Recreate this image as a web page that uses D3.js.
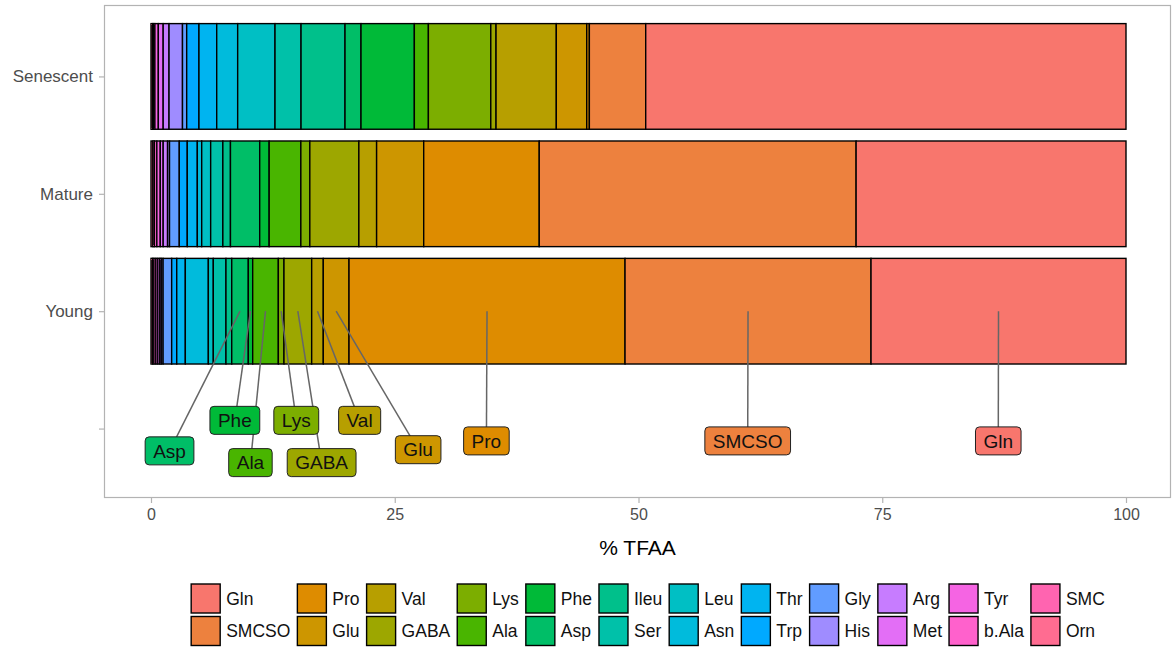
<!DOCTYPE html>
<html>
<head>
<meta charset="utf-8">
<script src="https://cdn.jsdelivr.net/npm/d3@7"></script>
<style>
  body { margin: 0; background: #fff; }
  text { font-family: "Liberation Sans", Arial, sans-serif; }
</style>
</head>
<body>
<svg id="chart" width="1174" height="649"></svg>
<script>
// ---- data ----
const stages = ["Senescent", "Mature", "Young", ""];
const aminoAcids = ["Gln","SMCSO","Pro","Glu","Val","GABA","Lys","Ala","Phe","Asp","Ileu","Ser","Leu","Asn","Thr","Trp","Gly","His","Arg","Met","Tyr","b.Ala","SMC","Orn"];
const youngValues     = [26.15, 25.23, 28.31, 2.64, 1.19, 2.84, 0.58, 2.63, 0.45, 1.70, 0.59, 1.30, 0.51, 2.36, 0.88, 0.52, 0.88, 0.19, 0.15, 0.20, 0.20, 0.20, 0.15, 0.15];
const matureValues    = [27.68, 32.50, 11.85, 4.83, 1.82, 5.03, 0.92, 3.25, 0.97, 3.00, 0.78, 1.25, 0.92, 0.45, 1.03, 0.82, 1.00, 0.20, 0.45, 0.30, 0.35, 0.25, 0.15, 0.20];
const senescentValues = [49.26, 5.78, 0.27, 3.12, 6.18, 0.54, 6.40, 1.44, 5.47, 1.64, 4.51, 2.67, 3.83, 2.15, 1.82, 1.26, 0.43, 1.38, 0.60, 0.50, 0.35, 0.15, 0.10, 0.15];
const xTicks = [0, 25, 50, 75, 100];
const xTitle = "% TFAA";
// labelled segments (on the Young bar) and their repelled label placement
const labelled    = ["Asp","Phe","Ala","Lys","GABA","Val","Glu","Pro","SMCSO","Gln"];
const labelPosX   = [1.9, 8.6, 10.2, 14.9, 17.5, 21.4, 27.4, 34.4, 61.2, 86.9];
const labelDropY  = [1.19, 0.93, 1.29, 0.93, 1.29, 0.93, 1.18, 1.105, 1.105, 1.105];

// ---- ggplot hue palette (polarLUV, c=100, l=65) ----
function hclHex(h, c, l) {
  const hr = h * Math.PI / 180;
  const u = c * Math.cos(hr), v = c * Math.sin(hr);
  const Xn = 95.047, Yn = 100, Zn = 108.883;
  const den = Xn + 15 * Yn + 3 * Zn;
  const un = 4 * Xn / den, vn = 9 * Yn / den;
  const Y = Yn * Math.pow((l + 16) / 116, 3);
  const up = u / (13 * l) + un, vp = v / (13 * l) + vn;
  const X = 9 * Y * up / (4 * vp);
  const Z = -X / 3 - 5 * Y + 3 * Y / vp;
  const x = X / 100, y = Y / 100, z = Z / 100;
  let rgb = [
    3.240479 * x - 1.537150 * y - 0.498535 * z,
   -0.969256 * x + 1.875992 * y + 0.041556 * z,
    0.055648 * x - 0.204043 * y + 1.057311 * z
  ].map(t => {
    t = t <= 0.0031308 ? 12.92 * t : 1.055 * Math.pow(t, 1 / 2.4) - 0.055;
    return Math.round(Math.max(0, Math.min(1, t)) * 255);
  });
  return d3.rgb(rgb[0], rgb[1], rgb[2]).formatHex();
}
const palette = aminoAcids.map((d, i) => hclHex(15 + i * 360 / aminoAcids.length, 100, 65));
const color = d3.scaleOrdinal().domain(aminoAcids).range(palette);

// ---- build table ----
const valueRows = { "Senescent": senescentValues, "Mature": matureValues, "Young": youngValues };
const table = ["Senescent","Mature","Young"].map(s => {
  const row = { stage: s };
  aminoAcids.forEach((a, i) => row[a] = valueRows[s][i]);
  return row;
});
const stackKeys = aminoAcids.slice().reverse(); // Orn at 0, Gln at 100
const series = d3.stack().keys(stackKeys)(table);

// ---- layout ----
const svg = d3.select("#chart");
const panel = { left: 104, right: 1171, top: 5, bottom: 498 };
const x = d3.scaleLinear().domain([0, 100]).range([151, 1126]);
const y = d3.scalePoint().domain(stages).range([6, 499]).padding(0.6);
const step = y.step();
const barH = step * 0.9;

// panel border
svg.append("rect")
  .attr("x", panel.left + 0.5).attr("y", panel.top + 0.5)
  .attr("width", panel.right - panel.left - 1).attr("height", panel.bottom - panel.top - 1)
  .attr("fill", "none").attr("stroke", "#b3b3b3").attr("stroke-width", 1.2);

// bars
const gBars = svg.append("g");
series.forEach(s => {
  gBars.selectAll(null).data(s).join("rect")
    .attr("x", d => x(d[0]))
    .attr("y", d => y(d.data.stage) - barH / 2)
    .attr("width", d => Math.max(0, x(d[1]) - x(d[0])))
    .attr("height", barH)
    .attr("fill", color(s.key))
    .attr("stroke", "#000")
    .attr("stroke-width", 1.4);
});

// axes
const xAxis = d3.axisBottom(x).tickValues(xTicks).tickSize(5).tickPadding(6).tickFormat(d3.format("d"));
const gx = svg.append("g").attr("transform", `translate(0,${panel.bottom})`).call(xAxis);
gx.select(".domain").remove();
gx.selectAll(".tick line").attr("stroke", "#b3b3b3").attr("stroke-width", 1.2);
gx.selectAll(".tick text").attr("fill", "#4d4d4d").style("font-size", "16px")
  .style("font-family", "'Liberation Sans', Arial, sans-serif");

const yAxis = d3.axisLeft(y).tickSize(5).tickPadding(6);
const gy = svg.append("g").attr("transform", `translate(${panel.left},0)`).call(yAxis);
gy.select(".domain").remove();
gy.selectAll(".tick line").attr("stroke", "#b3b3b3").attr("stroke-width", 1.2);
gy.selectAll(".tick text").attr("fill", "#4d4d4d").style("font-size", "17px")
  .style("font-family", "'Liberation Sans', Arial, sans-serif");

svg.append("text")
  .attr("x", (panel.left + panel.right) / 2).attr("y", 555)
  .attr("text-anchor", "middle").style("font-size", "21px").attr("fill", "#000")
  .text(xTitle);

// repelled labels on Young bar
const young = table.find(r => r.stage === "Young");
const gLab = svg.append("g");
const labels = labelled.map((name, i) => {
  const s = series.find(q => q.key === name);
  const seg = s[table.indexOf(young)];
  return {
    name,
    ax: x((seg[0] + seg[1]) / 2), ay: y("Young"),
    lx: x(labelPosX[i]), ly: y("Young") + labelDropY[i] * step
  };
});
gLab.selectAll("line").data(labels).join("line")
  .attr("x1", d => d.ax).attr("y1", d => d.ay)
  .attr("x2", d => d.lx).attr("y2", d => d.ly)
  .attr("stroke", "#666").attr("stroke-width", 1.5);
const lg = gLab.selectAll("g.lab").data(labels).join("g").attr("class", "lab");
lg.append("rect");
lg.append("text")
  .attr("x", d => d.lx).attr("y", d => d.ly)
  .attr("text-anchor", "middle").attr("dy", "0.35em")
  .style("font-size", "19px").attr("fill", "#111")
  .text(d => d.name);
lg.each(function(d) {
  const t = d3.select(this).select("text").node();
  const w = t.getComputedTextLength() + 16;
  const h = 28;
  d3.select(this).select("rect")
    .attr("x", d.lx - w / 2).attr("y", d.ly - h / 2)
    .attr("width", w).attr("height", h)
    .attr("rx", 4).attr("ry", 4)
    .attr("fill", color(d.name)).attr("stroke", "#222").attr("stroke-width", 1);
});

// legend (2 rows, column-major)
const nRows = 2;
const nCols = Math.ceil(aminoAcids.length / nRows);
const key = 29, rowY = [584, 616.5];
const gLeg = svg.append("g");
const cols = [];
for (let c = 0; c < nCols; c++) {
  const items = aminoAcids.slice(c * nRows, c * nRows + nRows);
  const g = gLeg.append("g");
  let maxW = 0;
  items.forEach((a, r) => {
    g.append("rect").attr("x", 0).attr("y", rowY[r]).attr("width", key).attr("height", key)
      .attr("fill", color(a)).attr("stroke", "#000").attr("stroke-width", 1.4);
    const t = g.append("text").attr("x", key + 6).attr("y", rowY[r] + key / 2).attr("dy", "0.35em")
      .style("font-size", "17.5px").attr("fill", "#111").text(a);
    maxW = Math.max(maxW, t.node().getComputedTextLength());
  });
  cols.push({ g, w: key + 6 + maxW + 7 });
}
const totalW = d3.sum(cols, c => c.w) - 7;
let cx = 648 - totalW / 2;
cols.forEach(c => { c.g.attr("transform", `translate(${cx},0)`); cx += c.w; });
</script>
</body>
</html>
